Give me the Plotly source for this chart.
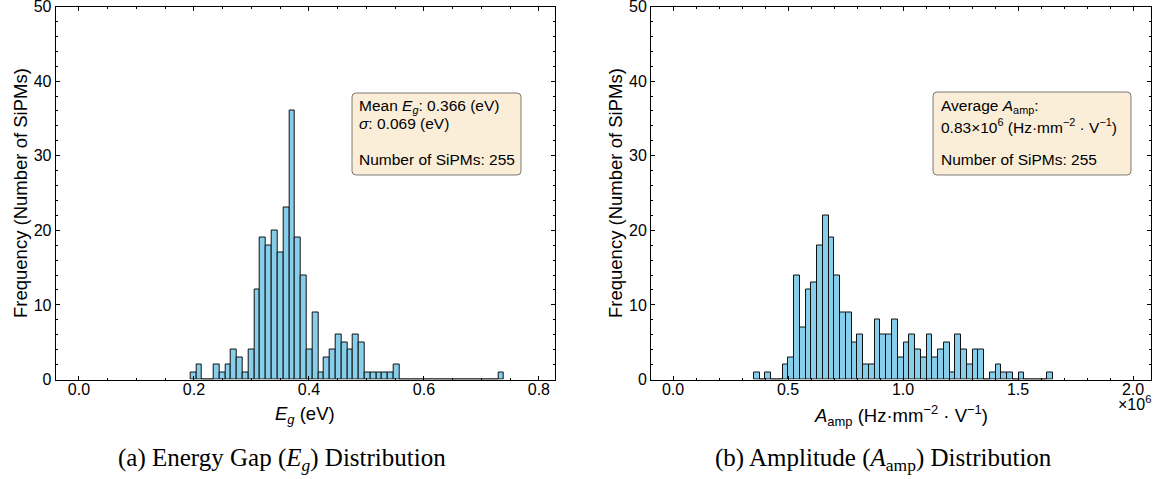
import numpy as np
import plotly.graph_objects as go

W, H = 1163, 479

# ---------------- data ----------------
# (a) Energy gap histogram (eV)
eg_bin_start = 0.194
eg_bin_width = 0.0101
eg_counts = [1, 2, 0, 0, 2, 1, 2, 4, 3, 1,
             4, 12, 19, 18, 20, 17, 23, 36, 19, 14,
             4, 9, 1, 3, 4, 6, 5, 4, 6, 5,
             1, 1, 1, 1, 1, 2,
             0, 0, 0, 0, 0, 0, 0, 0, 0, 0, 0, 0, 0, 0, 0, 0, 0,
             1]

# (b) Amplitude histogram (Hz mm^-2 V^-1)
amp_bin_start = 0.352e6
amp_bin_width = 0.025e6
amp_counts = [1, 0, 1, 0, 0,
              2, 3, 14, 7, 12, 13, 18, 22, 19, 14,
              9, 9, 5, 6, 2, 2, 8, 6, 6, 8,
              3, 5, 6, 4, 3, 6, 3, 4, 5, 1, 6, 4,
              2, 4, 4, 0, 1, 2, 1, 1, 0, 1,
              0, 0, 0, 0, 1]
amp_scale = 1e6

eg_ticks = [0.0, 0.2, 0.4, 0.6, 0.8]
amp_ticks = [0.0, 0.5, 1.0, 1.5, 2.0]
y_ticks = [0, 10, 20, 30, 40, 50]

box_a_lines = ["Mean <i>E<sub>g</sub></i>: 0.366 (eV)",
               "<i>σ</i>: 0.069 (eV)",
               "Number of SiPMs: 255"]
box_b_lines = ["Average <i>A</i><sub>amp</sub>:",
               "0.83×10<sup>6</sup> (Hz·mm<sup>−2</sup> · V<sup>−1</sup>)",
               "Number of SiPMs: 255"]

# ---------------- helpers ----------------
def px(x):
    return x / W

def py(y):
    return 1 - y / H

SANS = "Liberation Sans, Arial, Helvetica, sans-serif"
SERIF = "Liberation Serif, Times New Roman, serif"

eg_centers = eg_bin_start + eg_bin_width * (np.arange(len(eg_counts)) + 0.5)
amp_centers = (amp_bin_start + amp_bin_width * (np.arange(len(amp_counts)) + 0.5)) / amp_scale

BAR_COLOR = "#87CEEB"

fig = go.Figure()
fig.add_trace(go.Bar(x=eg_centers, y=eg_counts, width=eg_bin_width,
                     marker=dict(color=BAR_COLOR, line=dict(color="#111111", width=1)),
                     xaxis="x", yaxis="y", showlegend=False, hoverinfo="skip"))
fig.add_trace(go.Bar(x=amp_centers, y=amp_counts, width=amp_bin_width / amp_scale,
                     marker=dict(color=BAR_COLOR, line=dict(color="#111111", width=1)),
                     xaxis="x2", yaxis="y2", showlegend=False, hoverinfo="skip"))

# plot-area pixel geometry
L1, R1 = 55.7, 555.0
L2, R2 = 651.0, 1151.0
TOP, BOT = 6.5, 379.5

tickfont = dict(family=SANS, size=16, color="black")

def xaxis_cfg(dom, rng, tickvals, minor_dtick):
    return dict(domain=dom, range=rng, tickmode="array", tickvals=tickvals,
                ticktext=[f"{v:.1f}" for v in tickvals],
                ticks="inside", ticklen=4, tickwidth=1, tickcolor="black",
                minor=dict(dtick=minor_dtick, tick0=0, ticks="inside", ticklen=2,
                           tickwidth=0.8, tickcolor="black"),
                showline=True, linecolor="black", linewidth=1, mirror="ticks",
                showgrid=False, zeroline=False, tickfont=tickfont,
                ticklabelstandoff=-5,
                ticklabeloverflow="allow", automargin=False)

def yaxis_cfg(anchor):
    return dict(domain=[py(BOT), py(TOP)], range=[0, 50], anchor=anchor,
                tickmode="array", tickvals=y_ticks,
                ticks="inside", ticklen=4, tickwidth=1, tickcolor="black",
                minor=dict(dtick=2, tick0=0, ticks="inside", ticklen=2,
                           tickwidth=0.8, tickcolor="black"),
                showline=True, linecolor="black", linewidth=1, mirror="ticks",
                showgrid=False, zeroline=False, tickfont=tickfont,
                ticklabeloverflow="allow", automargin=False)

fig.update_layout(
    width=W, height=H,
    margin=dict(l=0, r=0, t=0, b=0, autoexpand=False),
    paper_bgcolor="white", plot_bgcolor="white",
    bargap=0, barmode="overlay",
    xaxis=dict(**xaxis_cfg([px(L1), px(R1)], [-0.0405, 0.828], eg_ticks, 0.05), anchor="y"),
    yaxis=yaxis_cfg("x"),
    xaxis2=dict(**xaxis_cfg([px(L2), px(R2)], [-0.0957, 2.078], amp_ticks, 0.1), anchor="y2"),
    yaxis2=yaxis_cfg("x2"),
)

def rounded_box(x0, y0, x1, y1, r=4):
    rx, ry = r / W, r / H
    X0, X1 = px(x0), px(x1)
    Y0, Y1 = py(y0), py(y1)  # Y0 top, Y1 bottom
    p = (f"M {X0+rx},{Y0} L {X1-rx},{Y0} Q {X1},{Y0} {X1},{Y0-ry} "
         f"L {X1},{Y1+ry} Q {X1},{Y1} {X1-rx},{Y1} "
         f"L {X0+rx},{Y1} Q {X0},{Y1} {X0},{Y1+ry} "
         f"L {X0},{Y0-ry} Q {X0},{Y0} {X0+rx},{Y0} Z")
    return dict(type="path", xref="paper", yref="paper", path=p,
                fillcolor="#FAEED9", line=dict(color="rgba(0,0,0,0.5)", width=1),
                layer="above")

fig.add_shape(rounded_box(352, 93, 521, 175))
fig.add_shape(rounded_box(933, 92, 1131, 175))

ann = []
def text(x, y, s, size=16, xanchor="left", family=SANS, angle=0, yanchor="middle"):
    ann.append(dict(x=px(x), y=py(y), xref="paper", yref="paper", text=s,
                    showarrow=False, xanchor=xanchor, yanchor=yanchor,
                    textangle=angle, font=dict(family=family, size=size, color="black")))

for yy, s in zip([106, 124, 159], box_a_lines):
    text(357, yy, s, size=15.5)
for yy, s in zip([106, 126, 159], box_b_lines):
    text(939, yy, s, size=15.5)

# axis labels
text(20, (TOP + BOT) / 2, "Frequency (Number of SiPMs)", size=18.5, xanchor="center", angle=-90)
text(615, (TOP + BOT) / 2, "Frequency (Number of SiPMs)", size=18.5, xanchor="center", angle=-90)
text((L1 + R1) / 2, 415, "<i>E<sub>g</sub></i> (eV)", size=18.5, xanchor="center")
text((L2 + R2) / 2, 415, "<i>A</i><sub>amp</sub> (Hz·mm<sup>−2</sup> · V<sup>−1</sup>)", size=18.5, xanchor="center")
text(1153, 403, "×10<sup>6</sup>", size=16, xanchor="right")

# captions
text(282, 459, "(a) Energy Gap (<i>E<sub>g</sub></i>) Distribution", size=25, xanchor="center", family=SERIF)
text(883, 459, "(b) Amplitude (<i>A</i><sub>amp</sub>) Distribution", size=25, xanchor="center", family=SERIF)

fig.update_layout(annotations=ann)

fig.write_html("out.html")
